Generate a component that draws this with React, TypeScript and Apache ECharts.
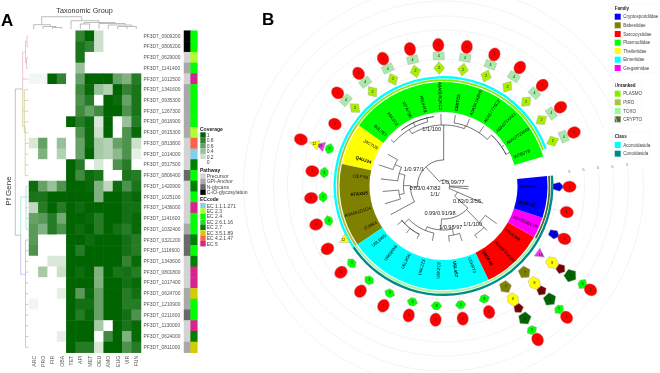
import React, { useEffect, useRef } from "react";
import * as echarts from "echarts";

const FONT = "'Liberation Sans', Arial, sans-serif";

// ---------- Panel A data ----------
const genes = ["PF3D7_0909200","PF3D7_0806200","PF3D7_0629000","PF3D7_1141400","PF3D7_1012500","PF3D7_1341600","PF3D7_0935300","PF3D7_1267300","PF3D7_0616900","PF3D7_0615300","PF3D7_0813800","PF3D7_1014000","PF3D7_0517500","PF3D7_0806400","PF3D7_1420900","PF3D7_1025100","PF3D7_1436000","PF3D7_1141600","PF3D7_1032400","PF3D7_0321200","PF3D7_1116600","PF3D7_1343600","PF3D7_0801800","PF3D7_1017400","PF3D7_0624700","PF3D7_1210900","PF3D7_0211600","PF3D7_1130000","PF3D7_0624000","PF3D7_0811000"];
const taxa = ["ARC","PRO","FIR","OBA","TET","API","MET","OEU","AMO","EUG","VIR","FUN"];
const coverage = [
  [0,0,0,0,0,.8,1,.2,0,0,0,0],
  [0,0,0,0,0,.9,.8,.2,0,0,0,0],
  [0,0,0,0,0,.9,0,0,0,0,0,0],
  [0,0,0,0,0,.4,0,0,0,0,0,0],
  [.05,.05,1,.8,0,.6,1,1,1,.6,.5,.85],
  [0,0,0,0,0,.75,.97,.4,.3,1,.8,.9],
  [0,0,0,0,0,.7,.85,0,1,.95,.6,.9],
  [0,0,0,0,0,.75,.6,.75,1,1,.7,.9],
  [0,0,0,0,1,.85,.95,.15,1,0,.4,.85],
  [0,0,0,0,0,.7,.95,.2,1,0,.7,.97],
  [.15,.6,0,.4,0,.6,.95,.35,.3,.6,.7,.2],
  [0,.5,0,.3,0,.6,1,.35,.3,.45,.7,.1],
  [0,0,0,0,1,.85,0,.15,0,.7,.85,0],
  [0,0,0,0,1,.75,.95,.9,0,0,.9,.85],
  [.95,.6,.4,.7,1,1,.97,.5,.25,.95,.7,.9],
  [.9,.9,1,1,1,1,1,.5,1,1,.93,.97],
  [.25,.85,1,.85,1,.95,1,1,1,1,.92,.92],
  [.6,.65,.85,.55,1,1,.97,.85,1,1,.92,.97],
  [.65,.5,.85,.7,1,.95,1,.85,1,.92,.85,.97],
  [.65,0,0,0,1,1,.95,1,1,1,.92,.85],
  [.7,0,0,0,1,.85,1,1,1,1,.92,.85],
  [0,0,.15,.15,1,1,1,1,1,1,.8,.97],
  [0,.35,0,.2,1,.95,1,.5,1,.9,.92,.85],
  [0,0,0,0,1,1,1,.5,1,1,.92,.97],
  [0,0,0,.1,1,.65,.97,.6,1,1,.85,.93],
  [.06,0,0,0,1,.93,.93,.6,1,1,.85,.85],
  [0,0,0,0,1,.85,.97,.6,1,1,.92,.7],
  [0,0,0,0,1,1,1,.35,0,1,.9,.97],
  [0,0,0,.1,1,1,1,0,.75,1,.5,.97],
  [0,0,0,0,1,.85,.85,.15,1,1,.7,.85],
];
const coverageLegend = ["1","0.8","0.6","0.4","0.2","0"];
const pathwayNames = ["Precursor","GPI-Anchor","N-glycans","C-/O-glycosylation"];
const pathwayColors = ["#d3d3d3","#a9a9a9","#696969","#000000"];
const ecNames = ["EC 1.1.1.271","EC 2.3","EC 2.4","EC 2.6.1.16","EC 2.7","EC 3.5.1.89","EC 4.2.1.47","EC 5"];
const ecColors = ["#87ceeb","#adff2f","#00ff00","#22e022","#008000","#d4cc00","#ff6347","#d6248f"];
const genePathway = [3,3,0,1,0,1,1,1,1,1,0,0,0,2,0,0,0,0,1,2,2,0,0,0,1,1,2,0,0,1];
const geneEc = [2,2,1,2,7,2,2,2,2,1,6,0,4,2,4,2,7,2,2,4,2,4,7,7,5,2,2,7,4,5];

// dendrogram segments: x0, y0, x1, y1, colour index (column units / height; page-x units / row units)
const treeColors = ["#a8a8a8","#eaa8c4","#c9c98a","#94dccb","#b6aeea"];
const rowTree = [
  [15.3,5.43,15.3,19.05,0],[15.3,5.43,22.7,5.43,0],[15.3,19.05,20.7,19.05,0],
  [22.7,2,22.7,5.43,1],[22.7,2,25.5,2,1],[25.5,1,25.5,3,1],[25.5,1,27,1,1],[27,.5,27,1.5,1],[27,.5,28.4,.5,1],[27,1.5,28.4,1.5,1],[25.5,3,26.6,3,1],[26.6,2.5,26.6,3.5,1],[26.6,2.5,28.4,2.5,1],[26.6,3.5,28.4,3.5,1],[22.7,4.5,28.4,4.5,1],
  [22.7,5.43,22.7,8.9,2],[22.7,7.4,24.3,7.4,2],[24.3,5.5,24.3,9.5,2],[24.3,5.5,28.4,5.5,2],[24.3,6.5,28.4,6.5,2],[24.3,7.5,28.4,7.5,2],[24.3,8.5,28.4,8.5,2],[24.3,9.5,28.4,9.5,2],[22.7,8.9,25.2,8.9,2],[25.2,8.9,25.2,13.5,2],[25.2,10.5,28.4,10.5,2],[25.2,11.5,28.4,11.5,2],[25.2,12.5,28.4,12.5,2],[25.2,13.5,28.4,13.5,2],
  [20.7,15.5,20.7,19.05,3],[20.7,15.5,26,15.5,3],[26,14.5,26,18.5,3],[26,14.5,28.4,14.5,3],[26,15.5,28.4,15.5,3],[26,16.5,28.4,16.5,3],[26,17.5,28.4,17.5,3],[26,18.5,28.4,18.5,3],
  [20.7,19.05,20.7,22.7,4],[20.7,22.7,25.5,22.7,4],[25.5,19.5,25.5,29.5,4],[25.5,19.5,28.4,19.5,4],[25.5,20.5,28.4,20.5,4],[25.5,21.5,28.4,21.5,4],[25.5,22.5,28.4,22.5,4],[25.5,23.5,28.4,23.5,4],[25.5,24.5,28.4,24.5,4],[25.5,25.5,28.4,25.5,4],[25.5,26.5,28.4,26.5,4],[25.5,27.5,28.4,27.5,4],[25.5,28.5,28.4,28.5,4],[25.5,29.5,28.4,29.5,4],
];
const columnTree = [
  [1.36,13.3,5.65,13.3],[1.36,13.3,1.36,5.3],[.5,5.3,2.3,5.3],[.5,5.3,.5,1],[2.3,5.3,2.3,3.5],[1.5,3.5,2.9,3.5],[1.5,3.5,1.5,1],[2.9,3.5,2.9,2.5],[2.5,2.5,3.5,2.5],[2.5,2.5,2.5,1],[3.5,2.5,3.5,1],
  [5.65,13.3,5.65,9.3],[4.5,9.3,7.5,9.3],[4.5,9.3,4.5,1],[7.5,9.3,7.5,7.5],[5.9,7.5,9.2,7.5],[5.9,7.5,5.9,6],[5.5,6,6.5,6],[5.5,6,5.5,1],[6.5,6,6.5,1],[9.2,7.5,9.2,6.5],[7.5,6.5,10.3,6.5],[7.5,6.5,7.5,1],[10.3,6.5,10.3,5],[8.5,5,11,5],[8.5,5,8.5,1],[11,5,11,3.5],[9.5,3.5,11.5,3.5],[9.5,3.5,9.5,1],[11.5,3.5,11.5,1],[10.5,3.5,10.5,1],
];

// ---------- Panel B data ----------
const leafNames = ["W7B5Y8","A0A077Z6M0","A0A077XA21","A0A077Y6C2","A0A5K1K8V6","C6KTC5","A0A0D9QKC2","K6UHX8","W7A7B6","A5K2C2","B3L7E7","J4C7U9","Q4UJ24","L0LFY8","A7AXG5","A0A061D1G4","I7J9R4","U6L9W0","U6KMW8","U6L8G6","U6KZZ3","U6KZC0","U6L4S7","U6KPT0","S8GP48","A0A0F7UC29","F0VEW8","A0A023B2V9","Q5CPU2","B6AA48"];
const boldLeaves = ["C6KTC5","Q4UJ24","A7AXG5","U6L4S7","S8GP48","Q5CPU2"];
const familyNames = ["Plasmodiidae","Theileriidae","Babesiidae","Eimeriidae","Sarcocystidae","Gregarinidae","Cryptosporidiidae"];
const familyColors = ["#00ff00","#ffff00","#808000","#00ffff","#ff0000","#ff00ff","#0000ff"];
const familyCounts = [11,2,4,7,3,1,2];
const unrankedNames = ["PLASMO","PIRO","TOXO","CRYPTO"];
const unrankedColors = ["#80ee00","#a4c639","#98fb98","#556b2f"];
const unrankedCounts = [11,6,10,3];
const classNames = ["Aconoidasida","Conoidasida"];
const classColors = ["#00ffff","#008b8b"];
const classCounts = [17,13];
const legendFamilyOrder = [6,2,4,0,1,3,5];

const domainKinds: Record<string, any> = {
  E: { path: "path://M0 5A5 5 0 1 1 10 5A5 5 0 1 1 0 5Z", size: [11.5,13.5], color: "#ff0000", text: "1" },
  D: { path: "diamond", size: [11,13], color: "#aaee00", text: "2" },
  R: { path: "rect", size: [11,7.5], color: "#a8eaa8", text: "4" },
  H: { path: "path://M0 5L3 0L7 0L10 5L7 10L3 10Z", size: [11,8], color: "#00ff00", text: "3" },
  T: { path: "triangle", size: [10,9], color: "#ffff00", text: "12" },
  M: { path: "triangle", size: [10,9], color: "#e040e0", text: "13" },
  O: { path: "path://M5 0L10 4L8 10L2 10L0 4Z", size: [12,12], color: "#808000", text: "7" },
  Y: { path: "path://M2.5 0L7.5 0L10 5L7.5 10L2.5 10L0 5Z", size: [12,12], color: "#ffff00", text: "8" },
  K: { path: "path://M5 0L10 4L8 10L2 10L0 4Z", size: [10,9], color: "#7a0000", text: "9" },
  G: { path: "path://M5 0L10 4L8 10L2 10L0 4Z", size: [13,12], color: "#006400", text: "6" },
  B: { path: "path://M5 0L10 4L8 10L2 10L0 4Z", size: [9,11], color: "#0000ee", text: "5" },
};
// per leaf: domain kind and its distance from the centre
const greenLeaf = [["D",118],["R",130],["E",141]];
const cyanLeaf = [["H",120],["E",134]];
const apicoLeaf = [["O",119],["Y",133],["K",144],["G",156],["H",169],["E",180]];
const leafDomains: any[][] = [
  greenLeaf,greenLeaf,greenLeaf,greenLeaf,greenLeaf,greenLeaf,greenLeaf,greenLeaf,greenLeaf,greenLeaf,greenLeaf,
  [["E",125]],
  [["H",120],["M",130],["T",136],["E",150]],
  [["H",120],["E",132]],[["H",121],["E",133]],[["H",120],["E",133]],[["T",114],["E",132]],
  cyanLeaf,cyanLeaf,cyanLeaf,cyanLeaf,cyanLeaf,cyanLeaf,cyanLeaf,
  apicoLeaf,apicoLeaf,
  [["M",119],["Y",133],["K",144],["G",156],["H",170],["E",180]],
  [["B",121],["E",132]],
  [["E",126]],
  [["B",115],["E",126]],
];
const gridRadii = [113,127,141,156,170,185,200];
const scaleMarks = [126.5,141,155.5,170,185];

// tree paths as [radius, leaf position] vertices
const treeBranches = [
  [[26,6.3],[61,6.3]],[[61,6.3],[61,4.6]],[[61,4.6],[64,4.6]],[[64,5.5],[64,2.6]],[[64,5.5],[72,5.5]],[[64,4.5],[72,4.5]],[[64,3.4],[72,3.4]],[[64,2.6],[70,2.6]],[[70,.9],[70,2.6]],[[70,.9],[74,.9]],[[70,1.5],[73,1.5]],
  [[61,6.3],[61,9]],[[61,6.5],[72,6.5]],[[61,9],[66,9]],[[66,7.5],[66,10.5]],[[66,10.5],[70,10.5]],[[66,7.5],[71,7.5]],[[66,8.5],[71,8.5]],[[70,9.5],[70,7]],
  [[26,6.3],[26,14.2]],[[26,14.2],[33,14.2]],[[33,14],[33,16.5]],[[33,16.5],[60,16.5]],[[33,14],[40,14]],[[40,12.7],[40,15]],[[40,15],[45,15]],[[45,14.5],[45,15.5]],[[45,14.5],[61,14.5]],[[45,15.5],[61,15.5]],[[40,12.7],[46,12.7]],[[46,12],[46,13.5]],[[46,13.5],[63,13.5]],[[46,12],[53,12]],[[53,11.5],[53,12.5]],[[53,11.5],[64,11.5]],[[53,12.5],[68,12.5]],
  [[6,10],[26,10]],[[6,10],[6,-3.45]],[[6,29.45],[25,29.45]],[[6,28.95],[25,28.95]],[[6,27.5],[15,27.5]],
  [[15,27.5],[43,27.5]],[[15,27.5],[15,25.9]],[[15,25.9],[33,25.9]],[[33,25.9],[33,21.5]],[[33,25.6],[51,25.6]],[[51,25.6],[51,26.5]],[[51,26.5],[65,26.5]],[[51,25.6],[62,25.6]],[[58,25.6],[58,24.6]],[[58,24.6],[62,24.6]],
  [[33,21.5],[44,21.5]],[[44,19.9],[44,22.8]],[[44,22.8],[50,22.8]],[[50,22.3],[50,23.4]],[[50,22.3],[56,22.3]],[[50,23.4],[58,23.4]],[[44,19.9],[48,19.9]],[[48,17.8],[48,20.8]],[[48,20.8],[56,20.8]],[[48,17.8],[54,17.8]],[[54,17.4],[54,19.5]],[[54,17.5],[60,17.5]],[[54,18.5],[60,18.5]],[[54,19.5],[59,19.5]],
];
const nodeLabels = [
  ["1/1/100",431.7,129],["1/0.97/1",414,169],["0.83/0.47/82",425,187.7],["1/0.99/77",453,181.7],["1/1/",435,194],
  ["0.83/0.3/55",467,200.7],["0.99/0.91/98",440,213.3],["1/0.98/97",450.7,226.7],["1/1/100",472.7,224.3],
];

// ---------- helpers ----------
const LEAF_DEG = 360 / 30.946;
const START_DEG = 16.5;
const toSpans = (counts: number[], colors: string[], first = 0) => {
  let at = 0;
  return counts.map((c, i) => {
    const span = { v0: Math.max(at, first), v1: at + c, color: colors[i] };
    at += c;
    return span;
  });
};
const familySpans = toSpans(familyCounts, familyColors);
const bands = [
  ...familySpans.map((s) => ({ ...s, r0: 74, r1: 104 })),
  ...toSpans(unrankedCounts, unrankedColors, 0.3).map((s) => ({ ...s, r0: 105, r1: 106.8 })),
  ...toSpans(classCounts, classColors, 0.3).map((s) => ({ ...s, r0: 107.6, r1: 110 })),
];

const txt = (text: string, x: number, y: number, extra: any = {}) => ({
  type: "text", x, y, silent: true,
  style: { text, fill: "#444", font: `5px ${FONT}`, textVerticalAlign: "middle", ...extra },
});
const swatch = (x: number, y: number, fill: string, size = 5.4) => ({
  type: "rect", x, y: y - size / 2, shape: { width: size, height: size }, silent: true, style: { fill },
});
const legendColumn = (title: string, tx: number, ty: number, names: string[], colors: string[], ys: number[], swx: number, labelx: number, size = 5.4, fs = 5) => [
  txt(title, tx, ty, { font: `bold ${fs}px ${FONT}`, fill: "#222" }),
  ...names.flatMap((n, i) => [swatch(swx, ys[i], colors[i], size), txt(n, labelx, ys[i], { font: `${fs}px ${FONT}` })]),
];

function buildOption() {
  const covColors = ["#006400","#337f33","#669f66","#99c099","#ccdfcc","#ffffff"];
  const graphic: any[] = [
    txt("A", 1, 20, { font: `bold 17px ${FONT}`, fill: "#000" }),
    txt("B", 262, 19, { font: `bold 17px ${FONT}`, fill: "#000" }),
    txt("Taxonomic Group", 84.5, 10.5, { font: `7.2px ${FONT}`, textAlign: "center", fill: "#333" }),
    { type: "text", x: 8, y: 191, rotation: Math.PI / 2, silent: true, style: { text: "Pf Gene", font: `8px ${FONT}`, fill: "#333", textAlign: "center", textVerticalAlign: "middle" } },
    ...legendColumn("Coverage", 200, 128.7, coverageLegend, covColors, [135,140.4,145.8,151.2,156.6,162], 200.3, 206.7),
    ...legendColumn("Pathway", 200, 169.7, pathwayNames, pathwayColors, [176,181.4,186.8,192.2], 200.3, 206.7),
    ...legendColumn("ECcode", 200, 199.3, ecNames, ecColors, [205.7,211,216.3,222,227.3,233,238.3,243.7], 200.3, 206.7),
    { type: "rect", shape: { x: 612, y: 4, width: 46, height: 69 }, silent: true, style: { fill: "none", stroke: "#f0f0f0", lineWidth: 0.5 } },
    { type: "rect", shape: { x: 612, y: 81, width: 30, height: 43 }, silent: true, style: { fill: "none", stroke: "#f0f0f0", lineWidth: 0.5 } },
    { type: "rect", shape: { x: 612, y: 132, width: 38, height: 26 }, silent: true, style: { fill: "none", stroke: "#f0f0f0", lineWidth: 0.5 } },
    ...legendColumn("Family", 614.7, 8, legendFamilyOrder.map((i) => familyNames[i]), legendFamilyOrder.map((i) => familyColors[i]), [16.7,25.3,34,42.7,51,59.7,68], 614.7, 623.3, 6, 4.5),
    ...legendColumn("Unranked", 614.7, 85, unrankedNames, unrankedColors, [93.7,102.3,111,119.3], 614.7, 623.3, 6, 4.5),
    ...legendColumn("Class", 614.7, 136.7, classNames, classColors, [145,153.7], 614.7, 623.3, 6, 4.5),
    ...nodeLabels.map(([t, x, y]) => txt(t as string, x as number, y as number, { font: `5.6px ${FONT}`, textAlign: "center", fill: "#222" })),
  ];

  const segmentRender = (palette: string[] | null) => (params: any, api: any) => {
    const a = api.coord([api.value(0), api.value(1)]);
    const b = api.coord([api.value(2), api.value(3)]);
    return {
      type: "line",
      shape: { x1: a[0], y1: a[1], x2: b[0], y2: b[1] },
      style: { stroke: palette ? palette[api.value(4)] : "#a0a0a0", lineWidth: 0.7, fill: "none" },
    };
  };
  const polarPolyline = (api: any, from: number[], to: number[], stroke: string, lineWidth: number) => {
    const pts: number[][] = [];
    for (let k = 0; k <= 16; k++) {
      const t = k / 16;
      pts.push(api.coord([from[0] + (to[0] - from[0]) * t, from[1] + (to[1] - from[1]) * t]));
    }
    return { type: "polyline", shape: { points: pts }, style: { stroke, lineWidth, fill: "none" } };
  };

  const domainData: any[] = [];
  leafDomains.forEach((list, leaf) => {
    const v = leaf + 0.5;
    const deg = START_DEG + v * LEAF_DEG;
    list.forEach(([kind, r]: any) => {
      const k = domainKinds[kind];
      domainData.push({
        value: [r, v],
        symbol: k.path,
        symbolSize: k.size,
        symbolRotate: deg - 90,
        itemStyle: { color: k.color, opacity: 1, borderColor: "#aaa", borderWidth: 0.4 },
        label: { show: true, formatter: k.text, position: "inside", fontSize: 3.6, color: "#111", fontFamily: FONT, textBorderWidth: 0 },
      });
    });
  });

  return {
    animation: false,
    backgroundColor: "#fff",
    textStyle: { fontFamily: FONT },
    graphic,
    visualMap: [
      { show: false, seriesIndex: 0, min: 0, max: 1, inRange: { color: ["#ffffff", "#006400"] } },
      {
        show: false, type: "piecewise", seriesIndex: 1, dimension: 2,
        pieces: [...pathwayColors, ...ecColors].map((color, i) => ({ value: i, color })),
      },
    ],
    grid: [
      { left: 29, top: 30.7, width: 112, height: 322 },
      { left: 184, top: 30.7, width: 13.3, height: 322 },
      { left: 15, top: 30.7, width: 14, height: 322 },
      { left: 29, top: 14, width: 112, height: 16 },
    ],
    xAxis: [
      {
        gridIndex: 0, type: "category", data: taxa,
        axisLine: { show: false }, axisTick: { show: false }, splitLine: { show: false },
        axisLabel: { rotate: 90, fontSize: 5.2, color: "#555", margin: 3, interval: 0, fontFamily: FONT },
      },
      { gridIndex: 1, type: "category", data: ["Pathway", "ECcode"], show: false },
      { gridIndex: 2, type: "value", min: 15, max: 29, show: false },
      { gridIndex: 3, type: "value", min: 0, max: 12, show: false },
    ],
    yAxis: [
      {
        gridIndex: 0, type: "category", data: genes, inverse: true, position: "right",
        axisLine: { show: false }, axisTick: { show: false }, splitLine: { show: false },
        axisLabel: { fontSize: 4.9, color: "#555", margin: 2.5, interval: 0, fontFamily: FONT },
      },
      { gridIndex: 1, type: "category", data: genes, inverse: true, show: false },
      { gridIndex: 2, type: "value", min: 0, max: 30, inverse: true, show: false },
      { gridIndex: 3, type: "value", min: 0, max: 16, show: false },
    ],
    polar: { center: [443.5, 186], radius: 200 },
    angleAxis: { type: "value", min: 0, max: 30.946, startAngle: START_DEG, clockwise: false, show: false },
    radiusAxis: { type: "value", min: 0, max: 200, show: false },
    series: [
      {
        type: "heatmap", xAxisIndex: 0, yAxisIndex: 0,
        data: coverage.flatMap((row, y) => row.map((v, x) => [x, y, v])),
        itemStyle: { borderWidth: 0 }, emphasis: { disabled: true },
      },
      {
        type: "heatmap", xAxisIndex: 1, yAxisIndex: 1,
        data: genes.flatMap((_, y) => [[0, y, genePathway[y]], [1, y, geneEc[y] + pathwayColors.length]]),
        itemStyle: { borderWidth: 0 }, emphasis: { disabled: true },
      },
      { type: "custom", coordinateSystem: "cartesian2d", xAxisIndex: 2, yAxisIndex: 2, data: rowTree, renderItem: segmentRender(treeColors), silent: true },
      { type: "custom", coordinateSystem: "cartesian2d", xAxisIndex: 3, yAxisIndex: 3, data: columnTree, renderItem: segmentRender(null), silent: true },
      // concentric guides
      {
        type: "custom", coordinateSystem: "polar", silent: true, z: 1,
        data: gridRadii.map((r) => [r, 0]),
        renderItem: (params: any, api: any) => {
          const r = api.value(0);
          const pts: number[][] = [];
          for (let k = 0; k <= 120; k++) pts.push(api.coord([r, 0.3 + (29.7 * k) / 120]));
          return { type: "polyline", shape: { points: pts }, style: { stroke: "#ececec", lineWidth: 0.6, fill: "none" } };
        },
      },
      // radial guide of each leaf
      {
        type: "custom", coordinateSystem: "polar", silent: true, z: 1,
        data: leafDomains.map((list, i) => [list[list.length - 1][1], i + 0.5]),
        renderItem: (params: any, api: any) =>
          polarPolyline(api, [110, api.value(1)], [api.value(0) + 11, api.value(1)], "#d5d5d5", 0.4),
      },
      // coloured family band and the taxonomic rings
      {
        type: "custom", coordinateSystem: "polar", silent: true, z: 2,
        data: bands.map((b) => [b.r1, b.v0]),
        renderItem: (params: any, api: any) => {
          const b = bands[params.dataIndex];
          const p = api.coord([b.r1, b.v0]);
          const { cx, cy } = params.coordSys;
          const a0 = Math.atan2(p[1] - cy, p[0] - cx);
          return {
            type: "sector",
            shape: { cx, cy, r0: b.r0, r: b.r1, startAngle: a0, endAngle: a0 - ((b.v1 - b.v0) * LEAF_DEG * Math.PI) / 180, clockwise: false },
            style: { fill: b.color, stroke: "none", lineWidth: 0 },
          };
        },
      },
      // tree
      {
        type: "custom", coordinateSystem: "polar", silent: true, z: 3,
        data: treeBranches.map((p) => [p[0][0], p[0][1]]),
        renderItem: (params: any, api: any) => {
          const p = treeBranches[params.dataIndex];
          const thick = (p[0][0] === 70 && p[1][0] === 70) || (p[0][0] === 54 && p[1][0] === 54);
          return polarPolyline(api, p[0], p[1], "#333", thick ? 1 : 0.7);
        },
      },
      // leaf names
      {
        type: "custom", coordinateSystem: "polar", silent: true, z: 4,
        data: leafNames.map((_, i) => [76, i + 0.5]),
        renderItem: (params: any, api: any) => {
          const v = api.value(1);
          const p = api.coord([76, v]);
          const name = leafNames[params.dataIndex];
          const deg = ((START_DEG + v * LEAF_DEG) % 360 + 360) % 360;
          const right = deg < 90 || deg > 270;
          return {
            type: "text", x: p[0], y: p[1],
            rotation: ((right ? deg : deg - 180) * Math.PI) / 180,
            style: {
              text: name, fill: "#000", stroke: "none", lineWidth: 0,
              font: `${boldLeaves.includes(name) ? "bold " : ""}4.4px ${FONT}`,
              textAlign: right ? "left" : "right", textVerticalAlign: "middle",
            },
          };
        },
      },
      // protein domains
      { type: "scatter", coordinateSystem: "polar", silent: true, z: 5, data: domainData },
      // scale marks in the gap
      {
        type: "scatter", coordinateSystem: "polar", silent: true, z: 5, symbolSize: 0,
        data: scaleMarks.map((r) => [r, 30.1]),
        label: { show: true, formatter: "5", position: "inside", fontSize: 4.4, color: "#666", fontFamily: FONT },
      },
    ],
  };
}

export default function App() {
  const ref = useRef<HTMLDivElement>(null);
  useEffect(() => {
    document.body.style.margin = "0";
    const chart = echarts.init(ref.current!, undefined, { renderer: "svg", width: 660, height: 373 });
    chart.setOption(buildOption() as any);
    return () => chart.dispose();
  }, []);
  return <div ref={ref} style={{ width: 660, height: 373, filter: "blur(0.35px)", background: "#fff" }} />;
}
